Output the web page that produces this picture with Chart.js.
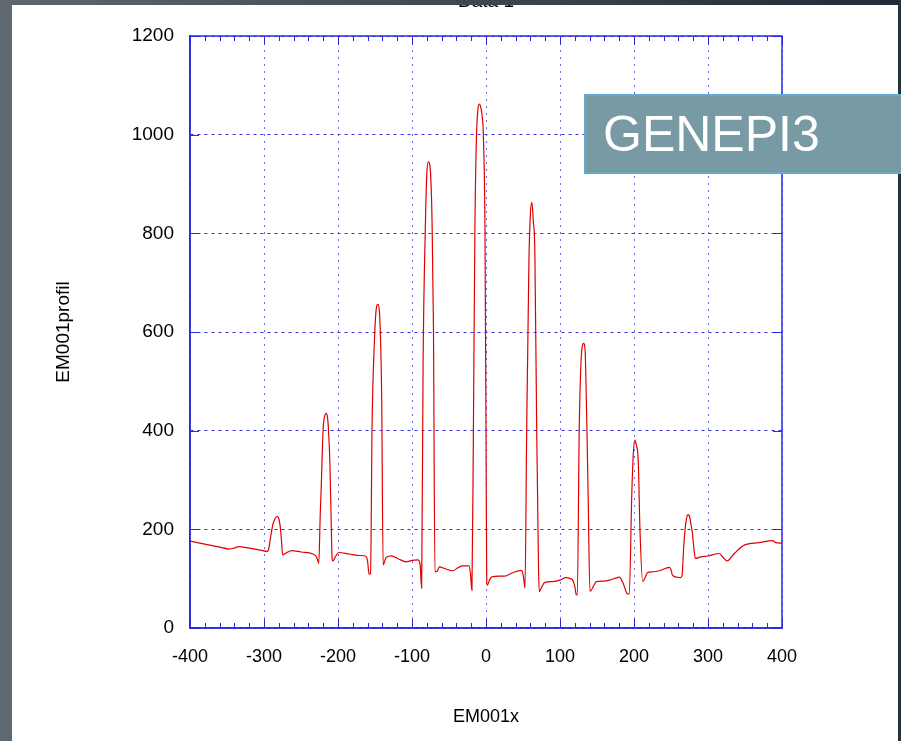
<!DOCTYPE html>
<html>
<head>
<meta charset="utf-8">
<script src="https://cdn.jsdelivr.net/npm/chart.js@4.4.1/dist/chart.umd.min.js"></script>
<style>
  html, body { margin: 0; padding: 0; background: #fff; overflow: hidden; }
  #wrap { position: relative; width: 901px; height: 741px; }
  #topbar { position: absolute; left: 0; top: 0; width: 901px; height: 5px; background: linear-gradient(to right, #5b6770, #1f2c39); }
  #leftbar { position: absolute; left: 0; top: 0; width: 12px; height: 741px; background: #5e6870; }
  #rightbar { position: absolute; left: 898px; top: 0; width: 3px; height: 741px; background: #243240; }
  #badge { position: absolute; left: 584px; top: 94px; width: 330px; height: 76px; padding-left: 17px;
           background: #779aa5; border: 2px solid #65aacd; color: #fff;
           font: 50px "Liberation Sans", Arial, sans-serif; line-height: 76px; }
</style>
</head>
<body>
<div id="wrap">
  <canvas id="chart" width="901" height="741"></canvas>
  <div id="topbar"></div>
  <div id="leftbar"></div>
  <div id="rightbar"></div>
  <div id="badge">GENEPI3</div>
</div>
<script>
// EM001 profile
const posX = [
  -400, -380, -360, -347, -340, -334, -320, -305, -296, -294, -291, -288, -285, -282, -280, -278, -276, -275,
  -270, -263, -250, -234, -229, -227, -226, -224, -223, -220, -218, -216, -214, -213, -211, -209, -208, -207,
  -203, -199, -185, -170, -162, -160, -158, -156, -154, -151, -148, -146, -144, -143, -141, -139,
  -135, -128, -118, -108, -100, -92, -89, -87, -85, -82, -80, -78, -76, -74, -73, -71, -69,
  -66, -63, -55, -45, -38, -32, -23, -21, -19, -17, -15, -13, -11, -9, -7, -5, -3.6, -1.4, 0, 1,
  2, 5, 9, 17, 25, 36, 47, 49, 51, 52.7, 55, 58, 60, 62, 64, 66, 68.5, 71, 72,
  75, 79, 90, 100, 108, 114, 117, 120, 122, 123.4, 126, 128.4, 130, 132, 134, 136, 138, 140.5,
  145, 149, 158, 167, 175, 180, 185, 189, 191, 193.6, 197, 199, 201, 203, 205.8, 208, 211.8,
  215, 218, 226, 234, 248, 250, 252, 258, 263, 265, 267, 269, 271, 273, 275, 277, 279, 281, 283,
  290, 300, 315, 320, 326, 335, 349, 369, 387, 392, 400
];
const profil = [
  176, 170, 164, 160, 162, 165, 162, 158, 155, 158, 185, 210, 222, 226, 222, 205, 170, 148,
  152, 157, 154, 150, 144, 135, 131, 230, 270, 405, 430, 435, 425, 405, 337, 200, 142, 136,
  146, 153, 150, 147, 145, 135, 109, 111, 405, 574, 650, 656, 640, 607, 472, 128,
  143, 146, 140, 134, 137, 138, 128, 81, 540, 810, 920, 945, 940, 890, 830, 608, 114,
  115, 124, 120, 116, 122, 126, 126, 110, 76, 405, 811, 990, 1050, 1062, 1055, 1035, 1000, 811, 400, 91,
  87, 98, 104, 105, 105, 112, 117, 115, 100, 81, 405, 742, 840, 863, 824, 763, 405, 120, 74,
  82, 92, 94, 97, 102, 100, 97, 85, 67, 67, 405, 540, 570, 577, 560, 432, 270, 74,
  84, 94, 95, 97, 101, 103, 92, 75, 69, 69, 270, 351, 381, 372, 337, 202, 94,
  102, 112, 114, 116, 123, 118, 107, 103, 102, 107, 160, 200, 222, 230, 226, 210, 192, 160, 141,
  144, 146, 151, 144, 136, 150, 168, 173, 177, 173, 172
];
const xRange = [-400, 400];
const yRange = [0, 1200];

const points = posX.map((x, i) => ({ x: x, y: profil[i] }));

const blue = '#2a2ae0';

const frame = {
  id: 'frame',
  beforeDatasetsDraw(chart) {
    const { ctx, chartArea: a, scales: { x, y } } = chart;
    ctx.save();
    ctx.strokeStyle = blue;
    ctx.lineWidth = 1;
    ctx.beginPath();
    x.ticks.forEach(t => {
      const px = Math.round(x.getPixelForValue(t.value)) + 0.5;
      const len = t.value % 100 === 0 ? 9 : 5;
      ctx.moveTo(px, a.bottom); ctx.lineTo(px, a.bottom - len);
      ctx.moveTo(px, a.top); ctx.lineTo(px, a.top + len);
    });
    y.ticks.forEach(t => {
      const py = Math.round(y.getPixelForValue(t.value)) + 0.5;
      ctx.moveTo(a.left, py); ctx.lineTo(a.left + 9, py);
      ctx.moveTo(a.right, py); ctx.lineTo(a.right - 9, py);
    });
    ctx.stroke();
    ctx.lineWidth = 1.5;
    ctx.strokeRect(a.left, a.top, a.right - a.left, a.bottom - a.top);
    ctx.restore();
  },
  afterDraw(chart) {
    const ctx = chart.ctx;
    ctx.save();
    ctx.fillStyle = '#000';
    ctx.font = '19px "Liberation Sans", Arial, sans-serif';
    ctx.textAlign = 'center';
    ctx.fillText('Data 1', 486, 7);
    ctx.restore();
  }
};

new Chart(document.getElementById('chart'), {
  type: 'line',
  data: {
    datasets: [{
      label: 'EM001profil',
      data: points,
      borderColor: '#e00000',
      borderWidth: 1.2,
      pointRadius: 0,
      fill: false,
      cubicInterpolationMode: 'monotone'
    }]
  },
  options: {
    responsive: false,
    animation: false,
    devicePixelRatio: 1,
    layout: { padding: { top: 36, right: 119, bottom: 0, left: 0 } },
    plugins: { legend: { display: false }, tooltip: { enabled: false } },
    scales: {
      x: {
        type: 'linear',
        min: xRange[0],
        max: xRange[1],
        afterFit: s => { s.height = 113; },
        ticks: {
          stepSize: 20,
          autoSkip: false,
          maxRotation: 0,
          padding: 18,
          color: '#000',
          font: { family: '"Liberation Sans", Arial', size: 18 },
          callback: v => (v % 100 === 0 ? String(v) : '')
        },
        grid: {
          drawTicks: false,
          lineWidth: 1,
          color: c => (c.tick && c.tick.value % 100 === 0 ? '#6a6af2' : 'transparent')
        },
        border: { display: true, color: blue, width: 1.5, dash: [2, 5] },
        title: {
          display: true,
          text: 'EM001x',
          color: '#000',
          font: { family: '"Liberation Sans", Arial', size: 18 },
          padding: { top: 0, bottom: 13 }
        }
      },
      y: {
        min: yRange[0],
        max: yRange[1],
        afterFit: s => { s.width = 190; },
        ticks: {
          stepSize: 200,
          padding: 16,
          color: '#000',
          font: { family: '"Liberation Sans", Arial', size: 19 },
          callback: v => String(v)
        },
        grid: { drawTicks: false, lineWidth: 1, color: '#3030e8' },
        border: { display: true, color: blue, width: 1.5, dash: [3, 4] },
        title: {
          display: true,
          text: 'EM001profil',
          color: '#000',
          font: { family: '"Liberation Sans", Arial', size: 19 },
          padding: { top: 52, bottom: 0 }
        }
      }
    }
  },
  plugins: [frame]
});
</script>
</body>
</html>
